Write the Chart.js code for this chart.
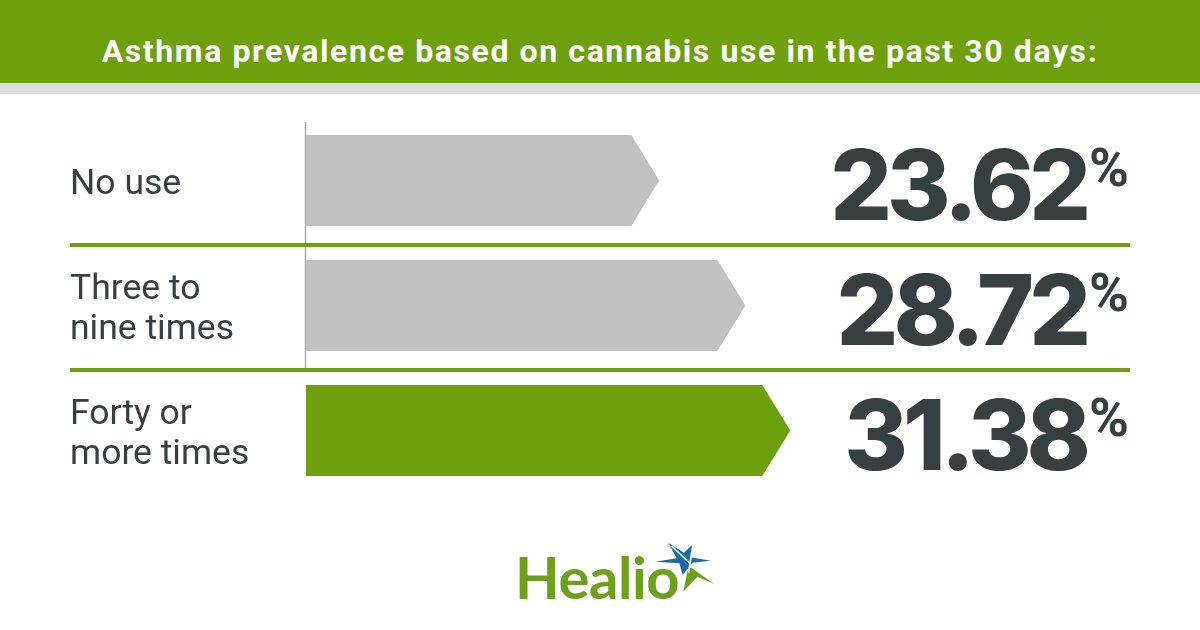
<!DOCTYPE html>
<html>
<head>
<meta charset="utf-8">
<title>Asthma prevalence</title>
<script src="https://cdn.jsdelivr.net/npm/chart.js@4/dist/chart.umd.min.js"></script>
<style>
  html, body { margin: 0; padding: 0; background: #fff; }
  #page { position: relative; width: 1200px; height: 630px; overflow: hidden; }
  #banner { position: absolute; left: 0; top: 0; width: 1200px; height: 83px; background: #6ea00e;
    border-bottom: 11px solid #dedddb; color: #fff; text-align: center; white-space: nowrap;
    font: 700 32px/103px Roboto, sans-serif; letter-spacing: 1.6px; }
  canvas { position: absolute; left: 0; top: 0; }
  #logo { position: absolute; left: 515px; top: 546px; color: #6ea01e;
    font: 700 58px/62px Lato, sans-serif; letter-spacing: -0.4px; }
  #star { position: absolute; left: 480px; top: 530px; }
</style>
</head>
<body>
<div id="page">
  <div id="banner">Asthma prevalence based on cannabis use in the past 30 days:</div>
  <canvas id="chart" width="1200" height="630"></canvas>
  <div id="logo">Healio</div>
  <svg id="star" width="260" height="90" viewBox="0 0 780 270">
    <polygon points="565,38 612,68 636,45 632,82 692,92 638,98 608,135 598,100 525,95 590,85" fill="#1f6aa8"/>
    <polygon points="632,112 703,162 652,140 610,185 622,125" fill="#6ea01e"/>
    <path d="M575,48 L632,102 M636,62 L626,128" stroke="#fff" stroke-width="5" fill="none"/>
  </svg>
</div>
<script>
// datos
const categories = ['No use', ['Three to', 'nine times'], ['Forty or', 'more times']];
const prevalence = [23.62, 28.72, 31.38];
const barColors = ['#c1c1c1', '#c1c1c1', '#6ea00e'];

const GREEN = '#6ea00e';
const DARK = '#373f41';

// dibuja las barras con punta de flecha, lineas y valores
const arrowBars = {
  id: 'arrowBars',
  beforeDatasetsDraw(chart) {
    const { ctx, chartArea, scales } = chart;
    const y = scales.y;

    // linea vertical gris, solo en las dos primeras filas
    ctx.save();
    ctx.strokeStyle = '#aaaaaa';
    ctx.lineWidth = 1.5;
    ctx.beginPath();
    ctx.moveTo(chartArea.left - 0.5, chartArea.top + 4);
    ctx.lineTo(chartArea.left - 0.5, (y.getPixelForValue(1) + y.getPixelForValue(2)) / 2);
    ctx.stroke();

    // separadores verdes entre filas
    ctx.strokeStyle = GREEN;
    ctx.lineWidth = 4;
    [0, 1].forEach(i => {
      const py = (y.getPixelForValue(i) + y.getPixelForValue(i + 1)) / 2 + 2;
      ctx.beginPath();
      ctx.moveTo(70, py);
      ctx.lineTo(1130, py);
      ctx.stroke();
    });

    // barras
    chart.getDatasetMeta(0).data.forEach((bar, i) => {
      const half = bar.height / 2;
      ctx.fillStyle = barColors[i];
      ctx.beginPath();
      ctx.moveTo(chartArea.left, bar.y - half);
      ctx.lineTo(bar.x - 28, bar.y - half);
      ctx.lineTo(bar.x, bar.y);
      ctx.lineTo(bar.x - 28, bar.y + half);
      ctx.lineTo(chartArea.left, bar.y + half);
      ctx.closePath();
      ctx.fill();

      // valor
      ctx.fillStyle = DARK;
      ctx.textBaseline = 'alphabetic';
      ctx.textAlign = 'right';
      ctx.letterSpacing = '-5px';
      ctx.font = '800 97px Inter, sans-serif';
      ctx.fillText(prevalence[i].toFixed(2), 1086, bar.y + 39);
      ctx.letterSpacing = '0px';
      ctx.textAlign = 'left';
      ctx.font = '700 54px Roboto, sans-serif';
      ctx.fillText('%', 1089, bar.y + 5);
    });
    ctx.restore();
    return false;
  }
};

new Chart(document.getElementById('chart'), {
  type: 'bar',
  data: {
    labels: categories,
    datasets: [{
      data: prevalence,
      backgroundColor: barColors,
      barThickness: 91
    }]
  },
  options: {
    indexAxis: 'y',
    responsive: false,
    animation: false,
    layout: { padding: { left: 70, right: 70, top: 118, bottom: 137 } },
    plugins: { legend: { display: false }, tooltip: { enabled: false } },
    scales: {
      x: { display: false, min: 2.7, max: 51.5 },
      y: {
        afterFit(scale) {
          scale.width = 236;
          // las etiquetas van unos pixeles mas abajo que el centro de la barra
          const drawLabels = scale.drawLabels;
          scale.drawLabels = function (area) {
            this.ctx.save();
            this.ctx.translate(0, 5);
            drawLabels.call(this, area);
            this.ctx.restore();
          };
        },
        border: { display: false },
        grid: { display: false },
        ticks: {
          crossAlign: 'far',
          padding: 0,
          color: DARK,
          font: { family: 'Roboto, sans-serif', size: 35.5, lineHeight: 1.12 },
          autoSkip: false
        }
      }
    }
  },
  plugins: [arrowBars]
});
</script>
</body>
</html>
